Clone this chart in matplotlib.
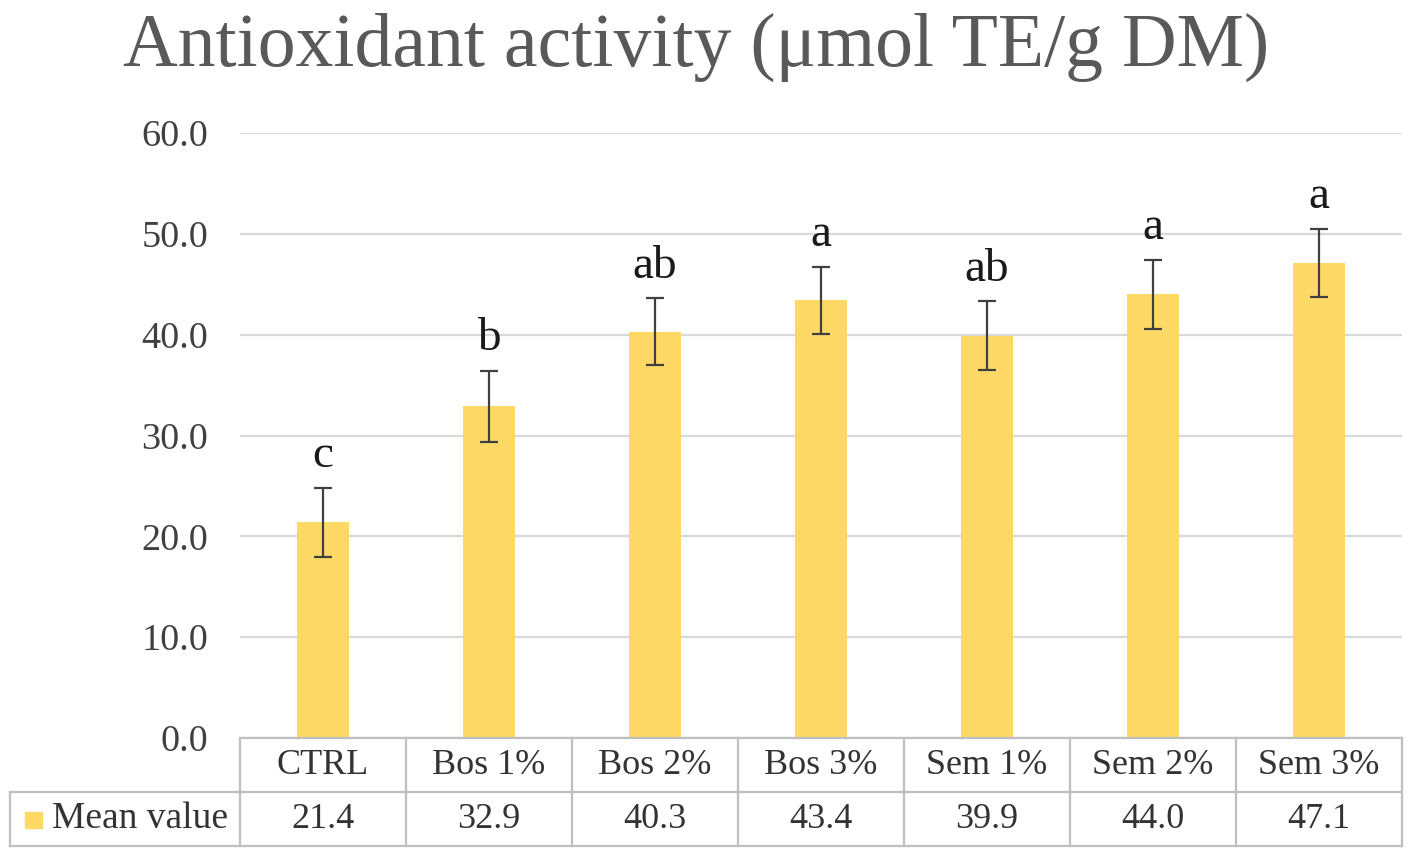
import matplotlib
matplotlib.use("Agg")
import matplotlib.pyplot as plt
from matplotlib.transforms import blended_transform_factory
from matplotlib.patches import Rectangle

categories = ["CTRL", "Bos 1%", "Bos 2%", "Bos 3%", "Sem 1%", "Sem 2%", "Sem 3%"]
mean_values = [21.4, 32.9, 40.3, 43.4, 39.9, 44.0, 47.1]
errors = [3.4, 3.5, 3.3, 3.3, 3.4, 3.4, 3.4]
letters = ["c", "b", "ab", "a", "ab", "a", "a"]
yticks = [0, 10, 20, 30, 40, 50, 60]
title = "Antioxidant activity (\u03bcmol TE/g DM)"
series_name = "Mean value"

plt.rcParams['font.family'] = ['Liberation Serif', 'DejaVu Serif']

W, H = 1418, 859
fig = plt.figure(figsize=(W / 100, H / 100), dpi=100)
ax = fig.add_axes([240 / W, (H - 738) / H, (1402 - 240) / W, (738 - 133) / H])

bar_color = "#FFD966"
x = list(range(len(categories)))
ax.bar(x, mean_values, width=0.31, color=bar_color, zorder=2)
ax.errorbar(x, mean_values, yerr=errors, fmt='none', ecolor='#404040',
            elinewidth=1.6, capsize=6.5, capthick=1.6, zorder=3)
for xi, m, e, l in zip(x, mean_values, errors, letters):
    ax.annotate(l, (xi, m + e), xytext=(0, 15), textcoords='offset points',
                ha='center', va='baseline', fontsize=34, color='#1a1a1a')

ax.set_xlim(-0.5, len(categories) - 0.5)
ax.set_ylim(0, 60)
ax.set_yticks(yticks)
ax.set_yticklabels([f"{v:.1f}" for v in yticks])
ax.tick_params(axis='y', length=0, pad=23, labelsize=27.5, labelcolor='#404040')
ax.set_xticks([])
ax.grid(axis='y', color='#D9D9D9', linewidth=1.6, zorder=0)
for s in ax.spines.values():
    s.set_visible(False)

fig.text(0.5 * (127 + 1265) / W, 1 - 66 / H, title, ha='center', va='baseline',
         fontsize=54.5, color='#595959')

# data table below the axes
line_c = '#BFBFBF'
lw = 1.6
tr = blended_transform_factory(ax.transData, fig.transFigure)
def fy(py):
    return 1 - py / H
def fx(px):
    return px / W
y0, y1, y2 = 738, 792, 846
n = len(categories)
fig.add_artist(plt.Line2D([fx(240), fx(1402)], [fy(y0), fy(y0)], color=line_c, lw=lw))
fig.add_artist(plt.Line2D([fx(10), fx(1402)], [fy(y1), fy(y1)], color=line_c, lw=lw))
fig.add_artist(plt.Line2D([fx(10), fx(1402)], [fy(y2), fy(y2)], color=line_c, lw=lw))
for i in range(n + 1):
    xb = i - 0.5
    ax.add_line(plt.Line2D([xb, xb], [fy(y0), fy(y2)], transform=tr, color=line_c,
                           lw=lw, clip_on=False))
fig.add_artist(plt.Line2D([fx(10), fx(10)], [fy(y1), fy(y2)], color=line_c, lw=lw))
for xi, c, v in zip(x, categories, mean_values):
    ax.text(xi, fy((y0 + y1) / 2), c, transform=tr, ha='center', va='center',
            fontsize=26, color='#333333', clip_on=False)
    ax.text(xi, fy((y1 + y2) / 2), f"{v:.1f}", transform=tr, ha='center', va='center',
            fontsize=26, color='#333333', clip_on=False)
fig.add_artist(Rectangle((fx(25), fy(828)), fx(42) - fx(25), fy(812) - fy(828),
                         transform=fig.transFigure, color=bar_color))
fig.text(fx(52), fy((y1 + y2) / 2), series_name, ha='left', va='center',
         fontsize=27, color='#333333')

fig.savefig("out.png", dpi=100, facecolor='white')
